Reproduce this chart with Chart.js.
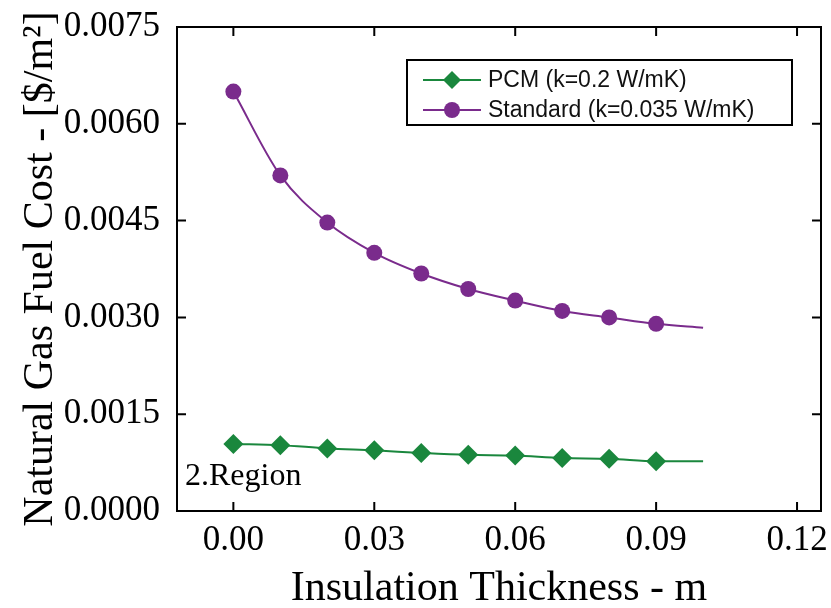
<!DOCTYPE html>
<html>
<head>
<meta charset="utf-8">
<script src="https://cdn.jsdelivr.net/npm/chart.js@4.4.1/dist/chart.umd.min.js"></script>
<style>
  html, body { margin: 0; padding: 0; background: #fff; }
  #wrap { width: 831px; height: 608px; }
</style>
</head>
<body>
<div id="wrap"><canvas id="c" width="831" height="608"></canvas></div>
<script>
// thickness (m) at each sample; last point (0.10) has no marker
const thickness = [0.00, 0.01, 0.02, 0.03, 0.04, 0.05, 0.06, 0.07, 0.08, 0.09, 0.10];
const pcmCost = [0.00104, 0.00102, 0.00097, 0.00094, 0.00090, 0.00087, 0.00086, 0.00082, 0.00081, 0.00077, 0.00077];
const standardCost = [0.0065, 0.0052, 0.00447, 0.0040, 0.00368, 0.00344, 0.00326, 0.0031, 0.0030, 0.0029, 0.00284];
const xTicks = [0.00, 0.03, 0.06, 0.09, 0.12];
const yTicks = [0.0000, 0.0015, 0.0030, 0.0045, 0.0060, 0.0075];
const seriesNames = ['PCM (k=0.2 W/mK)', 'Standard (k=0.035 W/mK)'];

const GREEN = '#1a873d';
const PURPLE = '#7a2b8c';
const SERIF = '"Liberation Serif", "Times New Roman", serif';
const SANS = '"Liberation Sans", Arial, sans-serif';

const pts = ys => thickness.map((x, i) => ({ x, y: ys[i] }));
const radii = r => thickness.map((x, i) => (i === thickness.length - 1 ? 0 : r));

// frame + inward ticks on all four sides
const framePlugin = {
  id: 'frame',
  afterDraw(chart) {
    const { ctx, chartArea: a, scales } = chart;
    const TL = 9;
    ctx.save();
    ctx.strokeStyle = '#000';
    ctx.lineWidth = 2;
    ctx.strokeRect(a.left, a.top, a.right - a.left, a.bottom - a.top);
    ctx.beginPath();
    xTicks.forEach(v => {
      const px = scales.x.getPixelForValue(v);
      ctx.moveTo(px, a.bottom); ctx.lineTo(px, a.bottom - TL);
      ctx.moveTo(px, a.top); ctx.lineTo(px, a.top + TL);
    });
    yTicks.forEach(v => {
      const py = scales.y.getPixelForValue(v);
      ctx.moveTo(a.left, py); ctx.lineTo(a.left + TL, py);
      ctx.moveTo(a.right, py); ctx.lineTo(a.right - TL, py);
    });
    ctx.stroke();

    // region label
    ctx.fillStyle = '#000';
    ctx.font = '32px ' + SERIF;
    ctx.textAlign = 'left';
    ctx.textBaseline = 'alphabetic';
    ctx.fillText('2.Region', a.left + 8, 485);
    ctx.restore();
  }
};

// boxed legend inside the plot, top right
const legendPlugin = {
  id: 'boxLegend',
  afterDraw(chart) {
    const { ctx } = chart;
    const bx = 407, by = 60, bw = 385, bh = 65;
    ctx.save();
    ctx.fillStyle = '#fff';
    ctx.fillRect(bx, by, bw, bh);
    ctx.strokeStyle = '#000';
    ctx.lineWidth = 2;
    ctx.strokeRect(bx, by, bw, bh);
    chart.data.datasets.forEach((ds, i) => {
      const y = by + 20 + i * 30;
      ctx.strokeStyle = ds.borderColor;
      ctx.lineWidth = 2;
      ctx.beginPath();
      ctx.moveTo(bx + 16, y);
      ctx.lineTo(bx + 74, y);
      ctx.stroke();
      ctx.fillStyle = ds.pointBackgroundColor;
      Chart.helpers.drawPoint(ctx, {
        pointStyle: ds.pointStyle, radius: ds.pointStyle === 'rectRot' ? 9 : 8,
        rotation: 0, borderWidth: 0
      }, bx + 45, y);
      ctx.fillStyle = '#111';
      ctx.font = '23px ' + SANS;
      ctx.textAlign = 'left';
      ctx.textBaseline = 'middle';
      ctx.fillText(ds.label, bx + 81, y + 1);
    });
    ctx.restore();
  }
};

new Chart(document.getElementById('c'), {
  type: 'scatter',
  data: {
    datasets: [
      {
        label: seriesNames[0],
        data: pts(pcmCost),
        showLine: true,
        borderColor: GREEN,
        backgroundColor: GREEN,
        pointBackgroundColor: GREEN,
        pointBorderWidth: 0,
        pointStyle: 'rectRot',
        pointRadius: radii(10),
        borderWidth: 2,
        cubicInterpolationMode: 'monotone'
      },
      {
        label: seriesNames[1],
        data: pts(standardCost),
        showLine: true,
        borderColor: PURPLE,
        backgroundColor: PURPLE,
        pointBackgroundColor: PURPLE,
        pointBorderWidth: 0,
        pointStyle: 'circle',
        pointRadius: radii(8),
        borderWidth: 2,
        cubicInterpolationMode: 'monotone'
      }
    ]
  },
  options: {
    responsive: false,
    animation: false,
    layout: { padding: { top: 27, right: 8, left: 0, bottom: 0 } },
    plugins: { legend: { display: false }, tooltip: { enabled: false } },
    scales: {
      x: {
        type: 'linear',
        min: -0.012,
        max: 0.1251,
        grid: { display: false, drawTicks: false },
        border: { display: false },
        afterBuildTicks: s => { s.ticks = xTicks.map(v => ({ value: v })); },
        afterFit: s => { s.height = 97; s.paddingLeft = 0; s.paddingRight = 0; },
        ticks: {
          color: '#000',
          font: { family: SERIF, size: 35 },
          padding: 9,
          maxRotation: 0,
          autoSkip: false,
          callback: v => v.toFixed(2)
        },
        title: {
          display: true,
          text: 'Insulation Thickness - m',
          color: '#000',
          font: { family: SERIF, size: 42, lineHeight: 0.9 },
          padding: { top: 0, bottom: 0 }
        }
      },
      y: {
        min: 0,
        max: 0.0075,
        grid: { display: false, drawTicks: false },
        border: { display: false },
        afterBuildTicks: s => { s.ticks = yTicks.map(v => ({ value: v })); },
        afterFit: s => { s.width = 177; s.paddingTop = 0; s.paddingBottom = 0; },
        ticks: {
          color: '#000',
          font: { family: SERIF, size: 35 },
          padding: 17,
          autoSkip: false,
          callback: v => v.toFixed(4)
        },
        title: {
          display: true,
          text: 'Natural Gas Fuel Cost - [$/m\u00B2]',
          color: '#000',
          font: { family: SERIF, size: 42, lineHeight: 1 },
          padding: { top: 20, bottom: 0 }
        }
      }
    }
  },
  plugins: [framePlugin, legendPlugin]
});
</script>
</body>
</html>
